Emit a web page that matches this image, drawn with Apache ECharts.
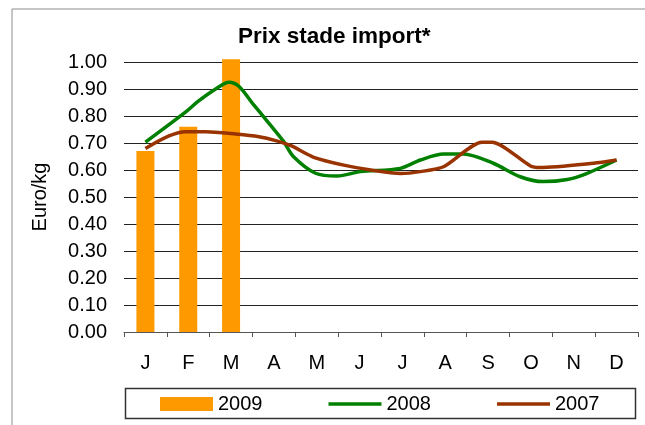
<!DOCTYPE html>
<html>
<head>
<meta charset="utf-8">
<title>Prix stade import*</title>
<script src="https://cdn.jsdelivr.net/npm/echarts@6/dist/echarts.min.js"></script>
<style>
html, body { margin: 0; padding: 0; background: #fff; }
#main { width: 645px; height: 425px; }
</style>
</head>
<body>
<div id="main"></div>
<script type="text/javascript">
// mois
var months = ['J', 'F', 'M', 'A', 'M', 'J', 'J', 'A', 'S', 'O', 'N', 'D'];
var yTicks = [0, 0.1, 0.2, 0.3, 0.4, 0.5, 0.6, 0.7, 0.8, 0.9, 1.0];

// 2009 : barres mensuelles
var prix2009 = [0.67, 0.76, 1.01];

// 2008 : position dans l'annee (0 = janvier) et prix
var pos2008 = [0, 0.95, 1.22, 1.64, 1.95, 2.18, 2.5, 2.88, 3.23, 3.46, 3.97, 4.48, 5.02, 5.95, 6.42, 6.96, 7.42, 8.12, 8.75, 9.29, 9.85, 10.3, 11];
var prix2008 = [0.703, 0.816, 0.853, 0.90, 0.925, 0.91, 0.847, 0.774, 0.705, 0.649, 0.588, 0.578, 0.594, 0.606, 0.637, 0.659, 0.659, 0.625, 0.575, 0.557, 0.565, 0.587, 0.637];

// 2007
var pos2007 = [0, 0.55, 0.94, 1.41, 2.11, 2.65, 3.04, 3.4, 3.93, 4.63, 5.26, 5.96, 6.42, 6.96, 7.86, 8.09, 8.99, 9.21, 10.46, 11];
var prix2007 = [0.68, 0.726, 0.742, 0.742, 0.733, 0.723, 0.709, 0.69, 0.647, 0.618, 0.60, 0.587, 0.594, 0.612, 0.703, 0.703, 0.615, 0.609, 0.625, 0.637];

function pairs(xs, ys) {
    return xs.map(function (x, i) { return [x, ys[i]]; });
}

var font = 'Arial, "Liberation Sans", sans-serif';
var lineIcon = 'path://M0,0 H60 V4 H0 Z';
var chart = echarts.init(document.getElementById('main'));

var option = {
    animation: false,
    textStyle: { fontFamily: font },
    title: {
        text: 'Prix stade import*',
        left: 233,
        top: 20,
        textStyle: { fontSize: 22.5, fontWeight: 'bold', color: '#000', fontFamily: font }
    },
    graphic: [
        { type: 'rect', shape: { x: 12, y: 9, width: 700, height: 500 }, style: { fill: 'none', stroke: '#8c8c8c', lineWidth: 1 }, z: -1 },
        { type: 'rect', shape: { x: 125.5, y: 388.5, width: 510, height: 30 }, style: { fill: 'none', stroke: '#333', lineWidth: 1.5 } }
    ],
    legend: {
        left: 160,
        top: 394,
        itemWidth: 53,
        itemHeight: 14,
        itemGap: 66,
        padding: 0,
        symbolKeepAspect: true,
        textStyle: { fontSize: 20, color: '#000', fontFamily: font },
        data: [
            { name: '2009', icon: 'rect' },
            { name: '2008', icon: lineIcon },
            { name: '2007', icon: lineIcon }
        ]
    },
    grid: { left: 124, right: 7, top: 62, bottom: 93 },
    xAxis: [{
        type: 'category',
        data: months,
        axisLine: { lineStyle: { color: '#555', width: 1 } },
        axisTick: { show: true, length: 5, lineStyle: { color: '#555' } },
        axisLabel: { fontSize: 20, color: '#000', margin: 21 }
    }, {
        type: 'value',
        min: -0.5,
        max: 11.5,
        show: false
    }],
    yAxis: {
        type: 'value',
        min: yTicks[0],
        max: yTicks[yTicks.length - 1],
        interval: 0.1,
        name: 'Euro/kg',
        nameLocation: 'middle',
        nameGap: 74,
        nameTextStyle: { fontSize: 20, color: '#000' },
        axisLine: { show: false },
        axisTick: { show: false },
        axisLabel: {
            fontSize: 20, color: '#000', margin: 17,
            formatter: function (v) { return v.toFixed(2); }
        },
        splitLine: { lineStyle: { color: '#222', width: 1 } }
    },
    series: [{
        name: '2009',
        type: 'bar',
        data: prix2009,
        barWidth: 18,
        clip: false,
        itemStyle: { color: '#ff9900' }
    }, {
        name: '2008',
        type: 'line',
        xAxisIndex: 1,
        data: pairs(pos2008, prix2008),
        smooth: 0.3,
        symbol: 'none',
        lineStyle: { color: '#008000', width: 3.5 },
        itemStyle: { color: '#008000' }
    }, {
        name: '2007',
        type: 'line',
        xAxisIndex: 1,
        data: pairs(pos2007, prix2007),
        smooth: 0.25,
        symbol: 'none',
        lineStyle: { color: '#993300', width: 3.5 },
        itemStyle: { color: '#993300' }
    }]
};

chart.setOption(option);
</script>
</body>
</html>
